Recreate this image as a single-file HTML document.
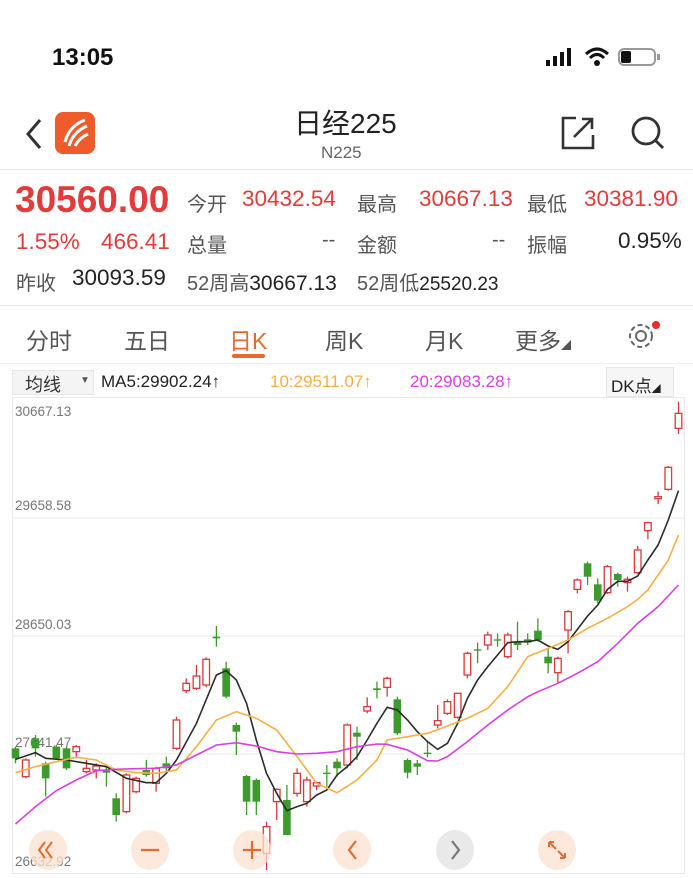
<!DOCTYPE html>
<html><head><meta charset="utf-8">
<style>
body{margin:0;width:693px;height:878px;overflow:hidden;background:#fff;font-family:"Liberation Sans","Noto Sans CJK SC",sans-serif;position:relative;color:#333}
.a{position:absolute;white-space:nowrap}
.r{color:#e23b3b}
.g{color:#555}
.n{font-size:22.5px}
.l{font-size:20px}
</style></head><body>
<div class="a" style="left:52px;top:44px;font-size:24px;font-weight:bold;color:#111">13:05</div>
<div class="a" style="left:546px;top:60px;width:4px;height:6px;background:#111"></div>
<div class="a" style="left:553px;top:56px;width:4px;height:10px;background:#111"></div>
<div class="a" style="left:560px;top:52px;width:4px;height:14px;background:#111"></div>
<div class="a" style="left:567px;top:48px;width:4px;height:18px;background:#111"></div>
<svg class="a" style="left:584px;top:46px" width="26" height="22"><path d="M2 8 Q13 -2 24 8" stroke="#111" stroke-width="3" fill="none"/><path d="M6 12 Q13 5 20 12" stroke="#111" stroke-width="3" fill="none"/><circle cx="13" cy="17" r="3" fill="#111"/></svg>
<div class="a" style="left:618px;top:48px;width:38px;height:18px;border:2px solid #999;border-radius:6px;box-sizing:border-box"></div>
<div class="a" style="left:621px;top:51px;width:10px;height:12px;background:#111;border-radius:2px"></div>
<div class="a" style="left:657px;top:54px;width:3px;height:6px;background:#999"></div>
<svg class="a" style="left:24px;top:118px" width="20" height="32"><path d="M16 2 L4 16 L16 30" stroke="#333" stroke-width="3" fill="none"/></svg>
<div class="a" style="left:55px;top:112px;width:40px;height:42px;background:#ef5b2a;border-radius:8px"></div>
<svg class="a" style="left:55px;top:112px" width="40" height="42"><path d="M10 30 Q14 14 30 8 M14 34 Q18 20 32 14 M20 34 Q24 26 33 22" stroke="#fff" stroke-width="3" fill="none"/></svg>
<div class="a" style="left:294px;top:102px;font-size:28px;color:#222">日经225</div>
<div class="a" style="left:321px;top:143px;font-size:17px;color:#666">N225</div>
<svg class="a" style="left:560px;top:115px" width="36" height="36"><path d="M16 3 H3 V33 H33 V20" stroke="#333" stroke-width="2.6" fill="none"/><path d="M14 22 L32 4 M22 4 H32 V14" stroke="#333" stroke-width="2.6" fill="none"/></svg>
<svg class="a" style="left:630px;top:115px" width="36" height="36"><circle cx="16" cy="16" r="13" stroke="#333" stroke-width="2.8" fill="none"/><path d="M25 25 L33 33" stroke="#333" stroke-width="2.8"/></svg>
<div class="a" style="left:0;top:169px;width:693px;height:1px;background:#e8e8e8"></div>
<div class="a r" style="left:15px;top:179px;font-size:37px;font-weight:bold">30560.00</div>
<div class="a g l" style="left:187px;top:188px">今开</div>
<div class="a r n" style="left:242px;top:186px">30432.54</div>
<div class="a g l" style="left:357px;top:188px">最高</div>
<div class="a r n" style="left:419px;top:186px">30667.13</div>
<div class="a g l" style="left:527px;top:188px">最低</div>
<div class="a r n" style="left:584px;top:186px">30381.90</div>
<div class="a r n" style="left:16px;top:229px">1.55%</div>
<div class="a r n" style="left:101px;top:229px">466.41</div>
<div class="a g l" style="left:187px;top:229px">总量</div>
<div class="a g l" style="left:322px;top:229px">--</div>
<div class="a g l" style="left:357px;top:229px">金额</div>
<div class="a g l" style="left:492px;top:229px">--</div>
<div class="a g l" style="left:527px;top:229px">振幅</div>
<div class="a n" style="left:618px;top:228px;color:#222">0.95%</div>
<div class="a g l" style="left:16px;top:267px">昨收</div>
<div class="a n" style="left:72px;top:265px;color:#222">30093.59</div>
<div class="a g l" style="left:187px;top:267px">52周高<span style="color:#222;font-size:21px">30667.13</span></div>
<div class="a g l" style="left:357px;top:267px">52周低<span style="color:#222;font-size:19px">25520.23</span></div>
<div class="a" style="left:0;top:305px;width:693px;height:1px;background:#e8e8e8"></div>
<div class="a g" style="left:26px;top:322px;font-size:23px">分时</div>
<div class="a g" style="left:124px;top:322px;font-size:23px">五日</div>
<div class="a" style="left:229px;top:322px;font-size:23px;color:#e8692d">日K</div>
<div class="a" style="left:232px;top:354px;width:33px;height:4px;background:#e8692d;border-radius:2px"></div>
<div class="a g" style="left:325px;top:322px;font-size:23px">周K</div>
<div class="a g" style="left:425px;top:322px;font-size:23px">月K</div>
<div class="a g" style="left:515px;top:322px;font-size:23px">更多<span style="font-size:10px">◢</span></div>
<svg class="a" style="left:627px;top:320px" width="34" height="32"><circle cx="14" cy="16" r="5" stroke="#666" stroke-width="2" fill="none"/><circle cx="14" cy="16" r="11" stroke="#666" stroke-width="2" fill="none" stroke-dasharray="5 3"/><circle cx="29" cy="5" r="4" fill="#e62c2c"/></svg>
<div class="a" style="left:0;top:363px;width:693px;height:1px;background:#eee"></div>
<div class="a" style="left:12px;top:370px;width:82px;height:25px;background:#f4f4f4;border:1px solid #e6e6e6;box-sizing:border-box"></div>
<div class="a" style="left:25px;top:371px;font-size:18px;color:#333">均线</div>
<div class="a" style="left:80px;top:375px;font-size:10px;color:#555">▼</div>
<div class="a" style="left:101px;top:372px;font-size:17px;color:#222">MA5:29902.24↑</div>
<div class="a" style="left:270px;top:372px;font-size:17px;color:#f5b045">10:29511.07↑</div>
<div class="a" style="left:410px;top:372px;font-size:17px;color:#d93fe0">20:29083.28↑</div>
<div class="a" style="left:606px;top:367px;width:68px;height:30px;background:#f6f6f6;border:1px solid #e6e6e6;box-sizing:border-box"></div>
<div class="a" style="left:611px;top:372px;font-size:17px;color:#222">DK点<span style="font-size:9px">◢</span></div>
<svg id="ch" class="a" style="left:0;top:0" width="693" height="878"></svg>
<script>
var s='';
s+='<rect x="12.5" y="397.5" width="672" height="476" fill="none" stroke="#e8e8e8"/>';
[518,636,754].forEach(function(y){s+='<line x1="12" x2="685" y1="'+y+'" y2="'+y+'" stroke="#eee" stroke-width="1.2"/>';});
var lab=[[30667.13,416],[29658.58,510],[28650.03,629],[27641.47,747],[26632.92,866]];
lab.forEach(function(l){s+='<text x="15" y="'+l[1]+'" font-size="13.5" fill="#777" font-family="Liberation Sans">'+l[0].toFixed(2)+'</text>';});
var Z2=function(v){return 600+v/3;},Z1=function(v){return 360+v/3;},X=function(v){return v/2.255;};
var c2=[[35,'G',445,475,440,490],[58,'R',480,530,475,535],[80,'G',415,445,405,470],[103,'G',490,535,485,590],[127,'G',440,475,435,480],[150,'G',445,505,440,510],[172,'R',440,455,435,470],[195,'R',505,515,480,520],[217,'R',498,510,490,535],[240,'G',512,518,500,560],[262,'G',595,645,580,665],[285,'R',525,635,520,640],[307,'R',535,575,530,580],[330,'G',510,525,480,530],[352,'R',505,550,500,575],[375,'G',490,505,470,520],[398,'R',360,445,350,450],[420,'R',250,272,235,280],[443,'R',228,265,195,270],[465,'R',178,255,172,262],[488,'G',110,115,78,140],[510,'G',205,290,185,295],[533,'G',375,395,368,465],[556,'G',528,605,525,645],[578,'G',540,605,535,645],[601,'R',680,760,665,810],[624,'R',568,605,565,660],[647,'G',600,705,555,705],[670,'R',520,580,505,590],[692,'R',540,605,530,620],[714,'R',548,558,545,570],[737,'G',518,522,495,560],[760,'G',485,505,475,530],[783,'R',375,495,370,505],[805,'G',398,410,380,480],[828,'R',320,333,292,340],[850,'G',265,270,245,295],[873,'R',235,262,230,290],[896,'G',298,400,290,405],[919,'G',480,518,475,535],[941,'G',490,500,480,525],[964,'G',458,462,425,472],[987,'R',362,375,315,385],[1009,'R',305,340,298,345],[1032,'R',280,352,278,355],[1054,'R',160,225,155,235],[1077,'G',148,152,128,190],[1100,'R',105,135,95,150],[1122,'G',118,122,100,140],[1145,'R',105,170,98,175],[1167,'G',125,135,65,150],[1190,'G',118,128,100,135],[1213,'G',92,120,55,125],[1236,'G',170,190,145,220],[1258,'R',175,218,170,250],[1281,'R',35,90,30,160]];
var c1=[[1302,'R',660,688,655,700],[1325,'G',610,650,605,675],[1348,'G',673,722,655,730],[1370,'R',620,698,615,702],[1393,'G',642,660,638,680],[1415,'R',658,668,650,695],[1438,'R',570,638,558,642],[1461,'R',488,512,485,538],[1484,'R',410,416,395,432],[1507,'R',322,388,318,392],[1530,'R',160,205,125,222]];
function cand(c,F){var x=X(c[0]),t=F(c[2]),b=F(c[3]),wt=F(c[4]),wb=F(c[5]);var col=c[1]=='R'?'#d8393a':'#3d9a2c';
s+='<line x1="'+x+'" x2="'+x+'" y1="'+wt+'" y2="'+wb+'" stroke="'+col+'" stroke-width="1.3"/>';
var h=Math.max(b-t,1.3);
if(c[1]=='R')s+='<rect x="'+(x-3.3)+'" y="'+t+'" width="6.6" height="'+h+'" fill="#fff" stroke="'+col+'" stroke-width="1.3"/>';
else s+='<rect x="'+(x-3.8)+'" y="'+t+'" width="7.6" height="'+h+'" fill="'+col+'"/>';}
c2.forEach(function(c){cand(c,Z2)});c1.forEach(function(c){cand(c,Z1)});
function line(p2,p1,col){var pts=p2.map(function(p){return X(p[0])+','+Z2(p[1])}).concat(p1.map(function(p){return X(p[0])+','+Z1(p[1])}));
s+='<polyline points="'+pts.join(' ')+'" fill="none" stroke="'+col+'" stroke-width="1.6"/>';}
line([[35,478],[80,458],[103,475],[150,480],[195,490],[240,500],[285,535],[330,548],[352,548],[375,520],[398,480],[443,370],[488,225],[510,212],[533,240],[556,310],[578,420],[601,520],[624,580],[647,632],[670,620],[692,610],[714,585],[737,570],[760,525],[783,500],[805,470],[828,420],[850,370],[873,322],[896,330],[919,360],[941,395],[964,425],[987,448],[1009,430],[1032,370],[1054,295],[1077,240],[1100,200],[1122,165],[1145,128],[1167,125],[1190,125],[1213,120],[1236,138],[1258,148],[1281,125],[1302,88],[1325,48]],[[1348,735],[1370,688],[1393,664],[1415,664],[1438,648],[1461,600],[1484,555],[1507,480],[1530,392]],'#2b2b2b');
line([[35,518],[80,500],[127,485],[172,472],[217,480],[262,510],[307,518],[352,520],[398,510],[443,440],[488,360],[533,335],[578,355],[624,390],[670,470],[714,550],[760,578],[805,540],[850,480],[873,420],[919,410],[964,400],[1009,378],[1054,355],[1100,325],[1145,260],[1190,170],[1236,145],[1281,120],[1325,85],[1370,55],[1415,20]],[[1438,718],[1461,690],[1507,600],[1530,525]],'#f5b045');
line([[35,672],[80,620],[127,572],[172,540],[217,512],[262,508],[307,506],[352,505],[398,495],[443,465],[488,435],[533,428],[578,438],[624,455],[670,462],[714,460],[760,455],[805,440],[850,432],[873,433],[919,450],[964,482],[987,483],[1009,470],[1054,425],[1100,375],[1145,330],[1190,290],[1213,275],[1258,250],[1302,220],[1348,185],[1393,130],[1438,70]],[[1484,740],[1530,675]],'#d93fe0');
var bx=[48,150,252,352,455,557];
bx.forEach(function(x,i){s+='<ellipse cx="'+x+'" cy="850" rx="19" ry="20" fill="'+(i==4?'rgba(225,225,225,0.75)':'rgba(251,225,208,0.75)')+'"/>';});
var o='#e8692d';
s+='<path d="M45 842 L39 850 L45 858 M52 842 L46 850 L52 858" stroke="'+o+'" stroke-width="2" fill="none"/>';
s+='<line x1="141" x2="159" y1="850" y2="850" stroke="'+o+'" stroke-width="2.2"/>';
s+='<path d="M243 850 H261 M252 841 V859" stroke="'+o+'" stroke-width="2.2"/>';
s+='<path d="M356 841 L349 850 L356 859" stroke="'+o+'" stroke-width="2.2" fill="none"/>';
s+='<path d="M452 841 L459 850 L452 859" stroke="#777" stroke-width="2.2" fill="none"/>';
s+='<path d="M549 842 L556 849 M549 842 V847 M549 842 H554 M565 858 L558 851 M565 858 V853 M565 858 H560" stroke="'+o+'" stroke-width="2" fill="none"/>';
document.getElementById('ch').innerHTML=s;
</script>
</body></html>
